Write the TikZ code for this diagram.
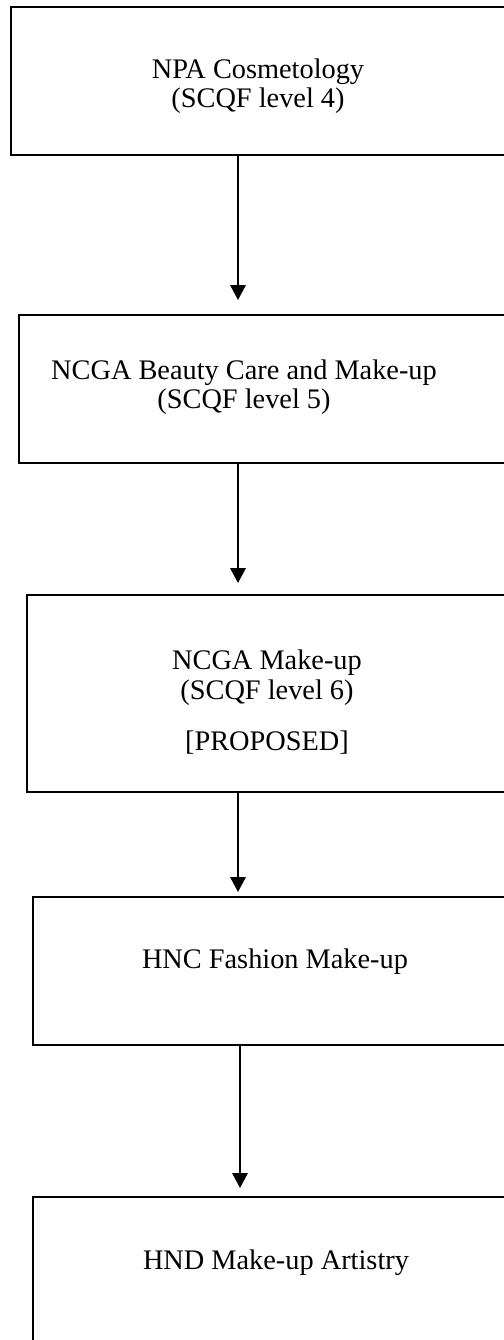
\documentclass[tikz,border=0pt]{standalone}
\usepackage{fontspec}
\setmainfont{Liberation Serif}
\usetikzlibrary{arrows.meta,fit}

\begin{document}
\begin{tikzpicture}[x=0.48pt, y=-0.48pt, align=center,
    stagebox/.style={draw, line width=1pt, inner sep=0pt, fit={#1}},
    stagetext/.style={font=\fontsize{13.6}{14.2}\selectfont},
    flowarrow/.style={-{Triangle[width=7.4pt,length=7.2pt]}, line width=1pt}]
  \path[use as bounding box, clip] (0,0) rectangle (504,1340);

  % the boxes run on past the right edge
  \node[stagebox={(11,7) (530,155)}] (npa) {};
  \node[stagebox={(19,315) (530,463)}] (ncgabeauty) {};
  \node[stagebox={(27,595) (530,792)}] (ncgamakeup) {};
  \node[stagebox={(33,897) (530,1045)}] (hnc) {};
  \node[stagebox={(33,1197) (530,1400)}] (hnd) {};

  \node[stagetext] (npatext) at (258,86) {NPA Cosmetology\\(SCQF level 4)};
  \node[stagetext] (ncgabeautytext) at (244,387) {NCGA Beauty Care and Make-up\\(SCQF level 5)};
  \node[stagetext] (ncgamakeuptext) at (267,702) {NCGA Make-up\\(SCQF level 6)\\[10.5pt]{[PROPOSED]}};
  \node[stagetext] (hnctext) at (275,962) {HNC Fashion Make-up};
  \node[stagetext] (hndtext) at (276,1263) {HND Make-up Artistry};

  \coordinate (A1) at (238,300);
  \coordinate (A2) at (238,583);
  \coordinate (A3) at (238,892);
  \coordinate (A4) at (240,1188);

  \draw[flowarrow] (npa.south -| A1) -- (A1);
  \draw[flowarrow] (ncgabeauty.south -| A2) -- (A2);
  \draw[flowarrow] (ncgamakeup.south -| A3) -- (A3);
  \draw[flowarrow] (hnc.south -| A4) -- (A4);
\end{tikzpicture}
\end{document}
